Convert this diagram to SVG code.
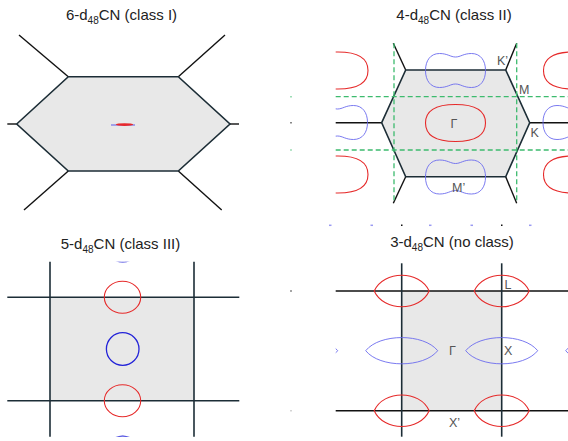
<svg xmlns="http://www.w3.org/2000/svg" width="568" height="441" viewBox="0 0 568 441">
<style>
.title{font-family:"Liberation Sans",Arial,sans-serif;font-size:15px;fill:#222;}
.lbl{font-family:"Liberation Sans",Arial,sans-serif;font-size:12.5px;fill:#555;}
.bz{fill:#e8e8e8;stroke:#1c2d36;stroke-width:1.6;}
.ln{stroke:#111;stroke-width:1.4;fill:none;}
.gl{stroke:#1c2d36;stroke-width:1.6;fill:none;}
.red{fill:none;stroke:#e62a2a;stroke-width:1.1;}
.blu{fill:none;stroke:#6b6bee;stroke-width:0.9;}
.blu2{fill:none;stroke:#2323d8;stroke-width:1.3;}
.grn{stroke:#3dbb6e;stroke-width:1.3;stroke-dasharray:5 3;fill:none;}
.tick{stroke-width:1.5;}
</style>
<defs>
<path id="rb" d="M30,0 C30,11.5 21,18.5 0,18.5 C-21,18.5 -30,11.5 -30,0 C-30,-11.5 -21,-18.5 0,-18.5 C21,-18.5 30,-11.5 30,0Z"/>
<path id="pn" d="M-30,0 C-30,-10 -25,-17 -16,-17 C-8,-17 -5,-13.5 0,-13.5 C5,-13.5 8,-17 16,-17 C25,-17 30,-10 30,0 C30,10 25,17 16,17 C8,17 5,13.5 0,13.5 C-5,13.5 -8,17 -16,17 C-25,17 -30,10 -30,0Z"/>
<path id="rc" d="M-18.2,0 C-18.2,-9 -10,-16 0,-16 C10,-16 18.2,-9 18.2,0 C18.2,9 10,16 0,16 C-10,16 -18.2,9 -18.2,0Z"/>
<path id="lr" d="M-27.5,0 C-18,-21 18,-21 27.5,0 C18,21 -18,21 -27.5,0Z"/>
<path id="lb" d="M-36,0 C-22,-17.5 22,-17.5 36,0 C22,17.5 -22,17.5 -36,0Z"/>
<clipPath id="c2"><rect x="335.7" y="43" width="232.3" height="161"/></clipPath>
<clipPath id="c3"><rect x="7" y="261.7" width="233" height="175"/></clipPath>
<clipPath id="c4"><rect x="335.7" y="262" width="232.3" height="175"/></clipPath>
</defs>

<g id="panel-class-I">
<text class="title" x="121.5" y="20" text-anchor="middle">6-d<tspan dy="4" font-size="10">48</tspan><tspan dy="-4">CN (class I)</tspan></text>
<g class="ln">
<line x1="68.3" y1="76.7" x2="19" y2="35"/>
<line x1="178.3" y1="76.7" x2="225" y2="35"/>
<line x1="68.3" y1="171" x2="24" y2="210"/>
<line x1="178.3" y1="171" x2="221.7" y2="210"/>
<line x1="7.3" y1="124" x2="16.7" y2="124"/>
<line x1="230" y1="124" x2="239" y2="124"/>
</g>
<polygon class="bz" points="16.7,124 68.3,76.7 178.3,76.7 230,124 178.3,171 68.3,171"/>
<line x1="111" y1="125" x2="135" y2="125" stroke="#5a5ae8" stroke-width="1"/>
<ellipse cx="124.5" cy="124.6" rx="8.7" ry="1.4" fill="#e8282b"/>
</g>

<g id="panel-class-II">
<text class="title" x="454" y="20" text-anchor="middle">4-d<tspan dy="4" font-size="10">48</tspan><tspan dy="-4">CN (class II)</tspan></text>
<g class="ln">
<line x1="405.7" y1="70" x2="393.3" y2="43.3"/>
<line x1="505.7" y1="70" x2="516.7" y2="43.3"/>
<line x1="405.7" y1="176.7" x2="393.3" y2="203.3"/>
<line x1="505.7" y1="176.7" x2="516.7" y2="203.3"/>
<line x1="335.7" y1="122.7" x2="381.7" y2="122.7"/>
<line x1="529.7" y1="122.7" x2="568" y2="122.7"/>
</g>
<polygon class="bz" points="381.7,122.7 405.7,70 505.7,70 529.7,122.7 505.7,176.7 405.7,176.7"/>
<g clip-path="url(#c2)">
<use href="#rb" class="red" x="338" y="70.5"/>
<use href="#rb" class="red" x="338" y="174.5"/>
<use href="#rb" class="red" x="573.5" y="70.5"/>
<use href="#rb" class="red" x="573.5" y="174.5"/>
<use href="#pn" class="blu" x="337.5" y="122.5"/>
<use href="#pn" class="blu" x="573" y="122.5"/>
</g>
<use href="#rb" class="red" x="455.5" y="123"/>
<use href="#pn" class="blu" x="455.5" y="70.5"/>
<use href="#pn" class="blu" x="455.5" y="177"/>
<g class="grn">
<line x1="335.7" y1="96.7" x2="568" y2="96.7"/>
<line x1="335.7" y1="150" x2="568" y2="150"/>
<line x1="394" y1="43.3" x2="394" y2="203.3"/>
<line x1="516.7" y1="43.3" x2="516.7" y2="203.3"/>
</g>
<line x1="290.5" y1="96.7" x2="291.5" y2="96.7" stroke="#3dbb6e" stroke-width="1.5"/>
<line x1="290.5" y1="150" x2="291.5" y2="150" stroke="#3dbb6e" stroke-width="1.5"/>
<line x1="290.5" y1="122.7" x2="291.5" y2="122.7" stroke="#111" stroke-width="1.5"/>
<text class="lbl" x="497" y="65">K’</text>
<text class="lbl" x="519" y="94">M</text>
<text class="lbl" x="530.5" y="137">K</text>
<text class="lbl" x="450.5" y="128">Γ</text>
<text class="lbl" x="452" y="192">M’</text>
</g>

<g id="panel-class-III">
<text class="title" x="120.5" y="248.5" text-anchor="middle">5-d<tspan dy="4" font-size="10">48</tspan><tspan dy="-4">CN (class III)</tspan></text>
<rect x="50" y="297.3" width="144" height="103.4" fill="#e8e8e8"/>
<g class="gl">
<line x1="50" y1="261.7" x2="50" y2="436.7"/>
<line x1="194" y1="261.7" x2="194" y2="436.7"/>
<line x1="7.3" y1="297.3" x2="239.3" y2="297.3"/>
<line x1="7.3" y1="400.7" x2="239.3" y2="400.7"/>
</g>
<g clip-path="url(#c3)">
<use href="#rc" class="red" x="122.5" y="297.3"/>
<use href="#rc" class="red" x="122.5" y="400.7"/>
<circle class="blu2" cx="122.7" cy="349" r="16.3"/>
<circle class="blu2" cx="122.7" cy="245.6" r="16.3" stroke="#8c8cf0"/>
<circle class="blu2" cx="122.7" cy="452.4" r="16.3" stroke="#8c8cf0"/>
</g>
</g>

<g id="panel-no-class">
<g class="tick">
<line x1="329" y1="225.3" x2="331.5" y2="225.3" stroke="#9a9af2"/>
<line x1="370.5" y1="225.3" x2="373" y2="225.3" stroke="#9a9af2"/>
<line x1="429" y1="225.3" x2="431.5" y2="225.3" stroke="#9a9af2"/>
<line x1="470.5" y1="225.3" x2="473" y2="225.3" stroke="#9a9af2"/>
<line x1="529" y1="225.3" x2="531.5" y2="225.3" stroke="#9a9af2"/>
<line x1="401" y1="225.3" x2="402.5" y2="225.3" stroke="#111"/>
<line x1="501" y1="225.3" x2="502.5" y2="225.3" stroke="#111"/>
<line x1="290.5" y1="291" x2="291.5" y2="291" stroke="#111"/>
<line x1="290.5" y1="410.7" x2="291.5" y2="410.7" stroke="#aaa"/>
</g>
<text class="title" x="452" y="247" text-anchor="middle">3-d<tspan dy="4" font-size="10">48</tspan><tspan dy="-4">CN (no class)</tspan></text>
<rect x="401.7" y="291" width="100" height="119.7" fill="#e8e8e8"/>
<g class="ln">
<line x1="335.7" y1="291" x2="568" y2="291"/>
<line x1="335.7" y1="410.7" x2="568" y2="410.7"/>
</g>
<g class="gl">
<line x1="401.7" y1="263.3" x2="401.7" y2="436.7"/>
<line x1="501.7" y1="263.3" x2="501.7" y2="436.7"/>
</g>
<g clip-path="url(#c4)">
<use href="#lr" class="red" x="401.7" y="291"/>
<use href="#lr" class="red" x="501.7" y="291"/>
<use href="#lr" class="red" x="401.7" y="410.7"/>
<use href="#lr" class="red" x="501.7" y="410.7"/>
<use href="#lb" class="blu" x="301.7" y="350.7"/>
<use href="#lb" class="blu" x="401.7" y="350.7"/>
<use href="#lb" class="blu" x="501.7" y="350.7"/>
<use href="#lb" class="blu" x="601.7" y="350.7"/>
</g>
<text class="lbl" x="504.5" y="288.5">L</text>
<text class="lbl" x="449" y="355">Γ</text>
<text class="lbl" x="504" y="355">X</text>
<text class="lbl" x="449" y="427">X’</text>
</g>
</svg>
